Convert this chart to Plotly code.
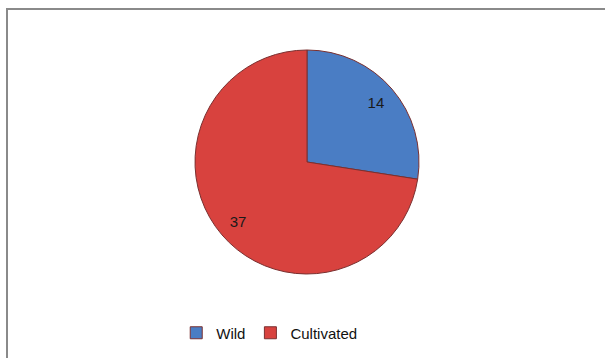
import plotly.graph_objects as go

labels = ["Wild", "Cultivated"]
values = [14, 37]
colors = ["#4A7DC4", "#D8423E"]

dom = dict(x=[195/605, 419/605], y=[1-274/358, 1-50/358])
fnt = "Liberation Sans, Arial, sans-serif"

fig = go.Figure()
fig.add_trace(go.Pie(
    labels=labels,
    values=values,
    sort=False,
    direction="clockwise",
    rotation=0,
    marker=dict(colors=colors, line=dict(color="#7a3030", width=1)),
    textinfo="none",
    domain=dom,
    hoverinfo="label+value",
))
# transparent ring carrying the value labels near the outer edge
fig.add_trace(go.Pie(
    labels=labels,
    values=values,
    sort=False,
    direction="clockwise",
    rotation=0,
    hole=0.62,
    marker=dict(colors=["rgba(0,0,0,0)", "rgba(0,0,0,0)"], line=dict(width=0)),
    textinfo="value",
    textposition="inside",
    insidetextorientation="horizontal",
    textfont=dict(family=fnt, size=15, color="#1a1a1a"),
    domain=dom,
    showlegend=False,
    hoverinfo="skip",
))

fig.update_layout(
    width=605, height=358,
    margin=dict(l=0, r=0, t=0, b=0),
    paper_bgcolor="white",
    plot_bgcolor="white",
    showlegend=True,
    legend=dict(
        orientation="h",
        x=0.445, xanchor="center",
        y=1-333/358, yanchor="middle",
        font=dict(family=fnt, size=15, color="#111111"),
        itemwidth=30,
    ),
    shapes=[dict(
        type="rect", xref="paper", yref="paper",
        x0=7/605, x1=1.02, y0=-0.02, y1=1-9/358,
        line=dict(color="#8a8a8a", width=2),
        fillcolor="rgba(0,0,0,0)",
        layer="below",
    )],
)

fig.write_html("out.html")
